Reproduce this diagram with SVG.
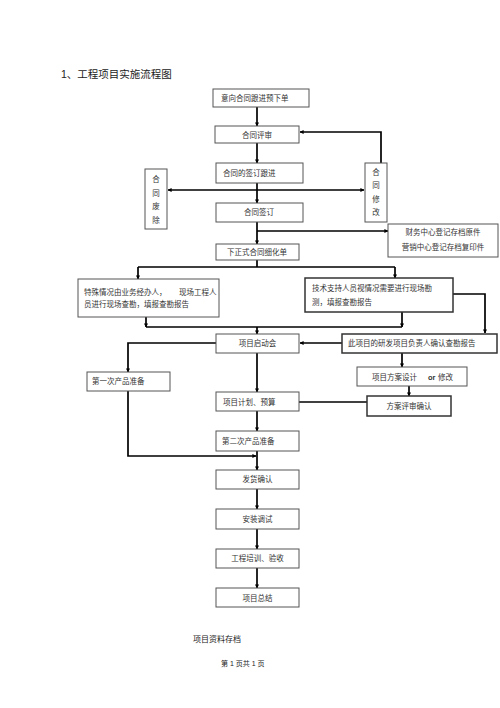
<svg xmlns="http://www.w3.org/2000/svg" width="500" height="708" viewBox="0 0 500 708">
<defs>
<marker id="ah" viewBox="0 0 10 10" refX="9" refY="5" markerWidth="4" markerHeight="4" orient="auto" markerUnits="userSpaceOnUse">
<path d="M0,0 L10,5 L0,10 z" fill="#000"/>
</marker>
<style>
.b{fill:#fff;stroke:#555;stroke-width:1}
.bt{fill:#fff;stroke:#333;stroke-width:1.5}
.t{font-family:"Liberation Serif","Noto Sans CJK SC",serif;font-size:7.5px;fill:#333}
.m{text-anchor:middle}
.c{fill:none;stroke:#000;stroke-width:1.7}
.a{marker-end:url(#ah)}
.h{font-family:"Liberation Sans","Noto Sans CJK SC",sans-serif;fill:#222}
</style>
</defs>
<rect width="500" height="708" fill="#fff"/>
<text class="h" x="61" y="78" font-size="10.5">1、工程项目实施流程图</text>

<g id="connectors">
<path class="c a" d="M257,107 V126"/>
<path class="c a" d="M257,143 V163"/>
<path class="c a" d="M381,163 V132 H300"/>
<path class="c a" d="M257,183 V203"/>
<path class="c a" d="M257,190 H168"/>
<path class="c a" d="M257,190 H364"/>
<path class="c a" d="M257,222 V244"/>
<path class="c a" d="M257,231 H388"/>
<path class="c" d="M257,260 V267 M138,267 H395"/>
<path class="c a" d="M138,267 V279"/>
<path class="c a" d="M395,267 V278"/>
<path class="c a" d="M146,317 V327"/>
<path class="c a" d="M402,312 V327"/>
<path class="c" d="M146,327 H402"/>
<path class="c a" d="M257,327 V334"/>
<path class="c a" d="M453,294 H485 V333"/>
<path class="c a" d="M342,343 H300"/>
<path class="c a" d="M216,343 H128 V372"/>
<path class="c a" d="M257,353 V392"/>
<path class="c a" d="M402,353 V367"/>
<path class="c a" d="M409,386 V396"/>
<path class="c" d="M299,402 H367"/>
<path class="c a" d="M257,411 V431"/>
<path class="c a" d="M128,391 V456 H256"/>
<path class="c a" d="M257,451 V470"/>
<path class="c a" d="M257,489 V509"/>
<path class="c a" d="M257,529 V549"/>
<path class="c a" d="M257,568 V588"/>
</g>

<g id="n1"><rect class="b" x="213" y="89" width="96" height="18"/><text class="t" x="221" y="101">意向合同跟进预下单</text></g>
<g id="n2"><rect class="b" x="215" y="126" width="84" height="17"/><text class="t m" x="257" y="137.5">合同评审</text></g>
<g id="n3"><rect class="b" x="216" y="163" width="87" height="20"/><text class="t" x="223" y="176">合同的签订跟进</text></g>
<g id="n4"><rect class="b" x="145" y="169" width="22" height="60"/>
<text class="t m" x="156" y="182">合</text><text class="t m" x="156" y="195.5">同</text><text class="t m" x="156" y="209">废</text><text class="t m" x="156" y="222.5">除</text></g>
<g id="n5"><rect class="b" x="365" y="163" width="22" height="59"/>
<text class="t m" x="376" y="175">合</text><text class="t m" x="376" y="188">同</text><text class="t m" x="376" y="201.5">修</text><text class="t m" x="376" y="215">改</text></g>
<g id="n6"><rect class="b" x="216" y="203" width="87" height="19"/><text class="t m" x="259" y="215">合同签订</text></g>
<g id="n7"><rect class="b" x="388" y="224" width="110" height="33"/>
<text class="t m" x="443" y="235">财务中心登记存档原件</text><text class="t m" x="443" y="250">营销中心登记存档复印件</text></g>
<g id="n8"><rect class="b" x="216" y="244" width="83" height="16"/><text class="t m" x="257" y="254.5">下正式合同细化单</text></g>
<g id="n9"><rect class="b" x="78" y="279" width="141" height="38"/>
<text class="t" x="84" y="294.5">特殊情况由业务经办人，<tspan x="179">现场工程人</tspan></text>
<text class="t" x="84" y="306.5">员进行现场查勘，填报查勘报告</text></g>
<g id="n10"><rect class="bt" x="305" y="278" width="148" height="34"/>
<text class="t" x="312" y="291">技术支持人员视情况需要进行现场勘</text>
<text class="t" x="312" y="304.5">测，填报查勘报告</text></g>
<g id="n11"><rect class="b" x="216" y="334" width="83" height="19"/><text class="t m" x="257.5" y="346">项目启动会</text></g>
<g id="n12"><rect class="bt" x="342" y="334" width="155" height="19"/><text class="t" x="348" y="346">此项目的研发项目负责人确认查勘报告</text></g>
<g id="n13"><rect class="b" x="87" y="372" width="83" height="19"/><text class="t" x="92" y="384">第一次产品准备</text></g>
<g id="n14"><rect class="b" x="357" y="367" width="110" height="19"/>
<text class="t" x="372" y="379.5">项目方案设计<tspan font-family="Liberation Sans, sans-serif" font-weight="bold" x="428">or</tspan><tspan x="438">修改</tspan></text></g>
<g id="n15"><rect class="b" x="216" y="392" width="83" height="19"/><text class="t" x="223" y="404.5">项目计划、预算</text></g>
<g id="n16"><rect class="bt" x="367" y="396" width="84" height="20"/><text class="t m" x="409" y="409">方案评审确认</text></g>
<g id="n17"><rect class="b" x="216" y="431" width="83" height="20"/><text class="t" x="222" y="444">第二次产品准备</text></g>
<g id="n18"><rect class="b" x="216" y="470" width="83" height="19"/><text class="t m" x="257.5" y="482">发货确认</text></g>
<g id="n19"><rect class="b" x="216" y="509" width="83" height="20"/><text class="t m" x="257.5" y="522">安装调试</text></g>
<g id="n20"><rect class="b" x="216" y="549" width="83" height="19"/><text class="t m" x="257.5" y="561">工程培训、验收</text></g>
<g id="n21"><rect class="b" x="216" y="588" width="83" height="19"/><text class="t m" x="257.5" y="600.5">项目总结</text></g>

<text class="h" x="193" y="642" font-size="8">项目资料存档</text>
<text class="h" x="221" y="666" font-size="7">第 1 页共 1 页</text>
</svg>
